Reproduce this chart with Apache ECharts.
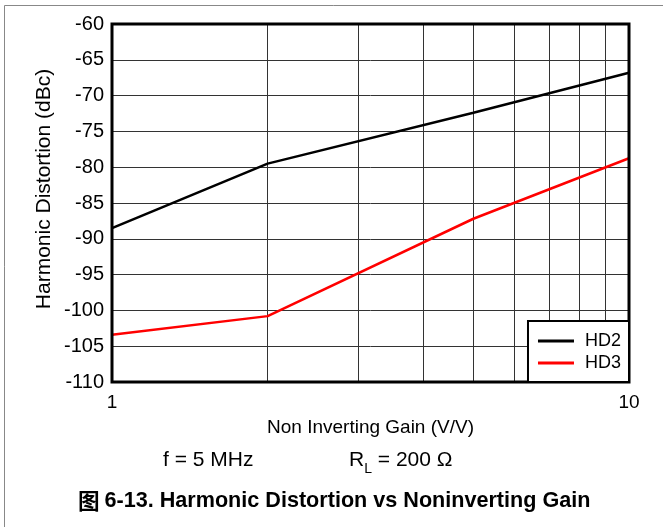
<!DOCTYPE html>
<html>
<head>
<meta charset="utf-8">
<script src="https://cdn.jsdelivr.net/npm/echarts@6/dist/echarts.min.js"></script>
<style>html,body{margin:0;padding:0;background:#fff;}#c{width:663px;height:527px;}</style>
</head>
<body>
<div id="c"></div>
<script>
var gains = [1, 2, 5, 10];
var hd2 = [-88.5, -79.5, -72.4, -66.8];
var hd3 = [-103.4, -100.8, -87.2, -78.75];
var minorGridX = [2, 3, 4, 5, 6, 7, 8, 9];
var yMin = -110, yMax = -60, yStep = 5;

function pairs(xs, ys) { return xs.map(function (x, i) { return [x, ys[i]]; }); }

var chart = echarts.init(document.getElementById('c'));
var font = '"Liberation Sans", Arial, sans-serif';
chart.setOption({
  animation: false,
  backgroundColor: '#fff',
  textStyle: { fontFamily: font },
  grid: { left: 112, right: 34, top: 24, bottom: 145, show: true, borderColor: '#000', borderWidth: 3, backgroundColor: 'transparent', z: 10 },
  xAxis: {
    type: 'log', logBase: 10, min: 1, max: 10,
    name: 'Non Inverting Gain (V/V)', nameLocation: 'middle', nameGap: 36,
    nameTextStyle: { fontSize: 19, color: '#000', fontFamily: font },
    axisLine: { show: false }, axisTick: { show: false },
    axisLabel: { fontSize: 19, color: '#000', margin: 11, fontFamily: font },
    splitLine: { show: false }
  },
  yAxis: {
    type: 'value', min: yMin, max: yMax, interval: yStep,
    axisLine: { show: false }, axisTick: { show: false },
    axisLabel: { fontSize: 20, color: '#000', margin: 8, fontFamily: font },
    splitLine: { show: true, lineStyle: { color: '#333', width: 1 } }
  },
  legend: {
    right: 34, bottom: 145, orient: 'vertical', align: 'left',
    itemWidth: 36, itemHeight: 3, itemGap: 4, icon: 'rect',
    padding: [11, 8, 10, 10],
    borderColor: '#000', borderWidth: 2, backgroundColor: '#fff',
    textStyle: { fontSize: 18, color: '#000', padding: [0, 0, 0, 6], fontFamily: font },
    data: ['HD2', 'HD3'], z: 20
  },
  series: [
    {
      name: 'grid', type: 'line', data: [], silent: true,
      markLine: {
        silent: true, symbol: 'none', label: { show: false },
        lineStyle: { color: '#333', width: 1, type: 'solid' },
        data: minorGridX.map(function (v) { return { xAxis: v }; })
      }
    },
    { name: 'HD2', type: 'line', data: pairs(gains, hd2), symbol: 'none', lineStyle: { color: '#000', width: 2.5 }, itemStyle: { color: '#000' }, z: 5 },
    { name: 'HD3', type: 'line', data: pairs(gains, hd3), symbol: 'none', lineStyle: { color: '#ff0000', width: 2.5 }, itemStyle: { color: '#ff0000' }, z: 5 }
  ],
  graphic: [
    { type: 'line', shape: { x1: 4.5, y1: 5.5, x2: 663, y2: 5.5 }, style: { stroke: '#888', lineWidth: 1 } },
    { type: 'line', shape: { x1: 4.5, y1: 5.5, x2: 4.5, y2: 527 }, style: { stroke: '#888', lineWidth: 1 } },
    { type: 'text', x: 44, y: 189, rotation: Math.PI / 2, style: { text: 'Harmonic Distortion (dBc)', font: '21px ' + font, fill: '#000', align: 'center', verticalAlign: 'middle' } },
    { type: 'text', left: 163, top: 450, style: { text: 'f = 5 MHz', font: '21px ' + font, fill: '#000' } },
    { type: 'text', left: 349, top: 450, style: {
        text: '{a|R}{s|L}{a| = 200 Ω}', fill: '#000',
        rich: { a: { fontSize: 21, fontFamily: font, verticalAlign: 'bottom' }, s: { fontSize: 14, fontFamily: font, verticalAlign: 'bottom', padding: [0, 0, -5, 0] } }
    } },
    { type: 'text', left: 78, top: 490, style: {
        text: '{c|图 }{b|6-13. Harmonic Distortion vs Noninverting Gain}', fill: '#000',
        rich: { c: { fontSize: 21.6, fontWeight: 'bold', fontFamily: '"Noto Sans CJK SC", sans-serif' }, b: { fontSize: 21.6, fontWeight: 'bold', fontFamily: font } }
    } }
  ]
});
</script>
</body>
</html>
